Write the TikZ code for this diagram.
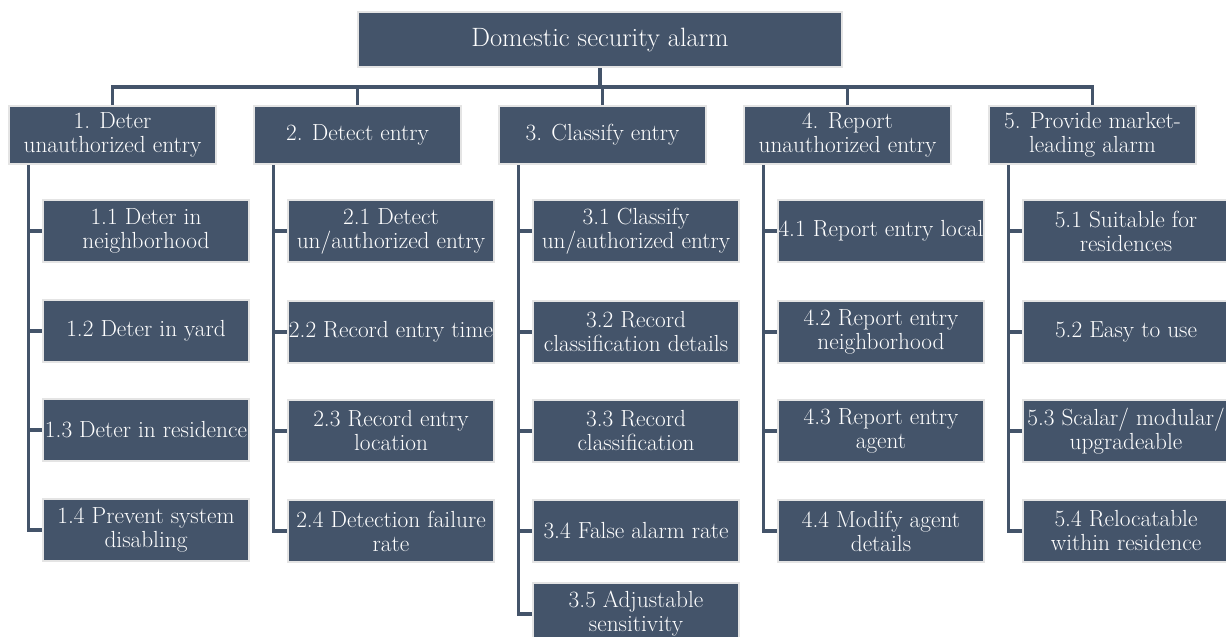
\documentclass[tikz,border=0pt]{standalone}
\usetikzlibrary{calc}
\definecolor{boxfill}{HTML}{44546A}
\definecolor{boxedge}{HTML}{E4E4E4}
\begin{document}
\begin{tikzpicture}[x=1pt,y=-1pt,
  basebox/.style={rectangle, fill=boxfill, draw=boxedge, line width=2.4pt, text=white,
    align=center, inner sep=0pt, font=\fontsize{23.3}{24}\selectfont},
  rootbox/.style={basebox, minimum width=483.6pt, minimum height=54.6pt, font=\fontsize{26.5}{28}\selectfont},
  mainbox/.style={basebox, minimum width=206.6pt, minimum height=57.6pt},
  subbox/.style={basebox, minimum width=205.6pt, minimum height=61.6pt},
  link/.style={draw=boxfill, line width=3.2pt, line join=miter}]
\useasboundingbox (0,0) rectangle (1226,637);

\node[rootbox] (root) at (600,39.5) {Domestic security alarm};
\coordinate (bus) at (0,87);

\node[mainbox] (a) at (112.5,135) {1. Deter\\unauthorized entry};
\node[mainbox] (b) at (357.5,135) {2. Detect entry};
\node[mainbox] (c) at (602.5,135) {3. Classify entry};
\node[mainbox] (d) at (847.5,135) {4. Report\\unauthorized entry};
\node[mainbox] (e) at (1092.5,135) {5. Provide market-\\leading alarm};

\node[subbox] (a1) at (146,231) {1.1 Deter in\\neighborhood};
\node[subbox] (a2) at (146,331) {1.2 Deter in yard};
\node[subbox] (a3) at (146,430) {1.3 Deter in residence};
\node[subbox] (a4) at (146,530) {1.4 Prevent system\\disabling};

\node[subbox] (b1) at (391,231) {2.1 Detect\\un/authorized entry};
\node[subbox] (b2) at (391,332) {2.2 Record entry time};
\node[subbox] (b3) at (391,431) {2.3 Record entry\\location};
\node[subbox] (b4) at (391,531) {2.4 Detection failure\\rate};

\node[subbox] (c1) at (636,231) {3.1 Classify\\un/authorized entry};
\node[subbox] (c2) at (636,332) {3.2 Record\\classification details};
\node[subbox] (c3) at (636,431) {3.3 Record\\classification};
\node[subbox] (c4) at (636,531) {3.4 False alarm rate};
\node[subbox] (c5) at (636,614) {3.5 Adjustable\\sensitivity};

\node[subbox] (d1) at (881,231) {4.1 Report entry local};
\node[subbox] (d2) at (881,332) {4.2 Report entry\\neighborhood};
\node[subbox] (d3) at (881,431) {4.3 Report entry\\agent};
\node[subbox] (d4) at (881,531) {4.4 Modify agent\\details};

\node[subbox] (e1) at (1126,231) {5.1 Suitable for\\residences};
\node[subbox] (e2) at (1126,332) {5.2 Easy to use};
\node[subbox] (e3) at (1126,431) {5.3 Scalar/ modular/\\upgradeable};
\node[subbox] (e4) at (1126,531) {5.4 Relocatable\\within residence};

% top-level connectors
\draw[link] (root.south) -- (root.south |- bus);
\draw[link] (a.north) -- (a.north |- bus) -- (e.north |- bus) -- (e.north);
\draw[link] (b.north) -- (b.north |- bus);
\draw[link] (c.north) -- (c.north |- bus);
\draw[link] (d.north) -- (d.north |- bus);

% column trunks
\coordinate (va) at ($(a.south)+(-84,0)$);
\coordinate (vb) at ($(b.south)+(-84,0)$);
\coordinate (vc) at ($(c.south)+(-84,0)$);
\coordinate (vd) at ($(d.south)+(-84,0)$);
\coordinate (ve) at ($(e.south)+(-84,0)$);

\foreach \k in {1,2,3,4} {
  \draw[link] (va) |- (a\k.west);
  \draw[link] (vb) |- (b\k.west);
  \draw[link] (vc) |- (c\k.west);
  \draw[link] (vd) |- (d\k.west);
  \draw[link] (ve) |- (e\k.west);
}
\draw[link] (vc) |- (c5.west);
\end{tikzpicture}
\end{document}
